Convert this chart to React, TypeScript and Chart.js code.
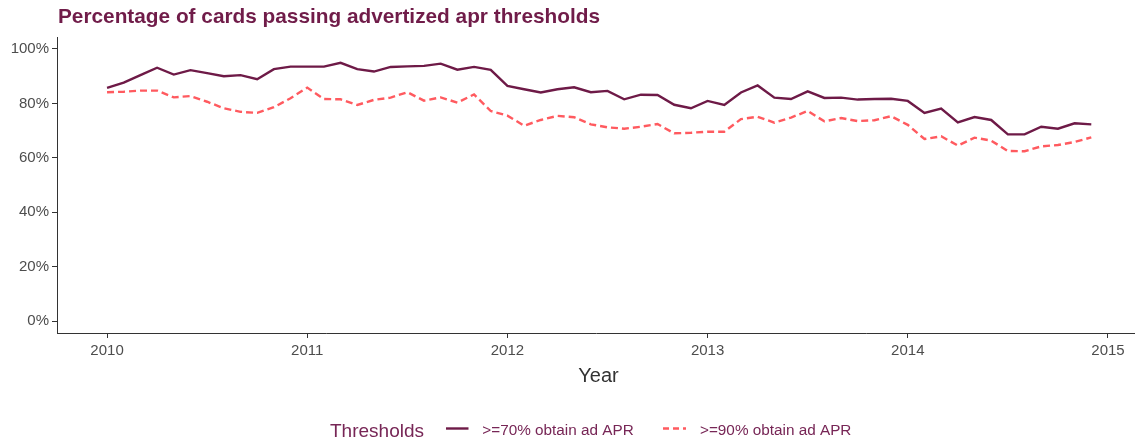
import React, { useEffect, useRef } from "react";
import { Chart, registerables } from "chart.js";

Chart.register(...registerables);

const years = [2010, 2011, 2012, 2013, 2014];
const monthsPerYear = 12;

const series70 = [
  85.7, 87.6, 90.4, 93.1, 90.6, 92.2, 91.1, 90.0, 90.4, 88.9, 92.6, 93.5,
  93.5, 93.5, 94.9, 92.6, 91.7, 93.4, 93.6, 93.8, 94.6, 92.4, 93.4, 92.3,
  86.4, 85.2, 84.0, 85.2, 85.9, 84.1, 84.6, 81.5, 83.2, 83.1, 79.5, 78.2,
  80.9, 79.4, 84.0, 86.6, 82.1, 81.6, 84.4, 82.0, 82.1, 81.4, 81.6, 81.7,
  80.9, 76.5, 78.1, 73.0, 75.0, 73.9, 68.6, 68.6, 71.4, 70.7, 72.7, 72.3,
];

const series90 = [
  84.1, 84.3, 84.7, 84.7, 82.2, 82.7, 80.6, 78.2, 76.9, 76.5, 78.6, 81.9,
  85.8, 81.6, 81.5, 79.4, 81.3, 82.1, 84.1, 81.0, 82.2, 80.3, 83.3, 77.2,
  75.5, 71.8, 73.9, 75.4, 74.9, 72.3, 71.2, 70.7, 71.4, 72.4, 69.0, 69.2,
  69.6, 69.6, 74.2, 75.1, 72.9, 74.8, 77.2, 73.4, 74.6, 73.5, 73.8, 75.3,
  72.1, 66.9, 67.9, 64.5, 67.4, 66.3, 62.5, 62.4, 64.2, 64.7, 65.8, 67.5,
];

const xTicks = [2010, 2011, 2012, 2013, 2014, 2015];
const yTicks = [0, 20, 40, 60, 80, 100];

const titleText = "Percentage of cards passing advertized apr thresholds";
const xTitle = "Year";
const legendTitle = "Thresholds";
const seriesNames = [">=70% obtain ad APR", ">=90% obtain ad APR"];

const COLOR70 = "#6e1a47";
const COLOR90 = "#ff5a5f";
const TEXT_MAROON = "#772656";
const FONT = '"Liberation Sans", Arial, sans-serif';

const xValues: number[] = [];
years.forEach((y) => {
  for (let m = 0; m < monthsPerYear; m++) xValues.push(y + m / monthsPerYear);
});

const overlayPlugin = {
  id: "overlayText",
  afterDraw(chart: any) {
    const ctx = chart.ctx;
    ctx.save();
    // title
    ctx.fillStyle = "#701c49";
    ctx.font = `bold 20.8px ${FONT}`;
    ctx.textAlign = "left";
    ctx.textBaseline = "alphabetic";
    ctx.fillText(titleText, 58, 22.7);
    // x title
    ctx.fillStyle = "#333333";
    ctx.font = `20px ${FONT}`;
    ctx.textAlign = "center";
    ctx.fillText(xTitle, 598.5, 382.3);
    // legend
    ctx.textAlign = "left";
    ctx.fillStyle = TEXT_MAROON;
    ctx.font = `19px ${FONT}`;
    ctx.fillText(legendTitle, 330, 437);
    const keys = [
      { x0: 446, x1: 468.5, tx: 482.3, color: COLOR70, dash: [] as number[] },
      { x0: 663, x1: 686, tx: 700, color: COLOR90, dash: [6, 4] },
    ];
    keys.forEach((k, i) => {
      ctx.beginPath();
      ctx.setLineDash(k.dash);
      ctx.strokeStyle = k.color;
      ctx.lineWidth = 2.4;
      ctx.moveTo(k.x0, 428.5);
      ctx.lineTo(k.x1, 428.5);
      ctx.stroke();
      ctx.setLineDash([]);
      ctx.fillStyle = TEXT_MAROON;
      ctx.font = `15.3px ${FONT}`;
      ctx.fillText(seriesNames[i], k.tx, 435);
    });
    ctx.restore();
  },
};

export default function App() {
  const ref = useRef<HTMLCanvasElement | null>(null);
  useEffect(() => {
    if (!ref.current) return;
    const chart = new Chart(ref.current, {
      type: "line",
      data: {
        datasets: [
          {
            label: seriesNames[0],
            data: series70.map((v, i) => ({ x: xValues[i], y: v })),
            borderColor: COLOR70,
            borderWidth: 2.4,
            pointRadius: 0,
            tension: 0,
            fill: false,
          },
          {
            label: seriesNames[1],
            data: series90.map((v, i) => ({ x: xValues[i], y: v })),
            borderColor: COLOR90,
            borderWidth: 2.4,
            borderDash: [7, 4],
            pointRadius: 0,
            tension: 0,
            fill: false,
          },
        ],
      },
      options: {
        animation: false,
        responsive: false,
        devicePixelRatio: 1,
        layout: { padding: { top: 37, left: 0, right: 0, bottom: 0 } },
        plugins: {
          legend: { display: false },
          title: { display: false },
          tooltip: { enabled: false },
        },
        scales: {
          x: {
            type: "linear",
            min: 2009.75,
            max: 2015.135,
            afterBuildTicks: (s: any) => {
              s.ticks = xTicks.map((v) => ({ value: v }));
            },
            afterFit: (s: any) => {
              s.height = 111;
            },
            ticks: {
              callback: (v: any) => String(v),
              color: "#4d4d4d",
              font: { family: FONT, size: 15 },
              padding: 4,
              maxRotation: 0,
              autoSkip: false,
            },
            grid: {
              drawOnChartArea: false,
              tickLength: 5,
              color: "#333333",
              lineWidth: 1,
            },
            border: { color: "#333333", width: 1 },
          },
          y: {
            type: "linear",
            min: -4.4,
            max: 104.4,
            afterBuildTicks: (s: any) => {
              s.ticks = yTicks.map((v) => ({ value: v }));
            },
            afterFit: (s: any) => {
              s.width = 57;
            },
            ticks: {
              callback: (v: any) => `${v}%`,
              color: "#4d4d4d",
              font: { family: FONT, size: 15 },
              padding: 3,
              autoSkip: false,
            },
            grid: {
              drawOnChartArea: false,
              tickLength: 5,
              color: "#333333",
              lineWidth: 1,
            },
            border: { color: "#333333", width: 1 },
          },
        },
      },
      plugins: [overlayPlugin],
    } as any);
    return () => chart.destroy();
  }, []);
  return (
    <div style={{ position: "fixed", left: 0, top: 0, width: 1135, height: 444, background: "#fff" }}>
      <canvas ref={ref} width={1135} height={444} style={{ display: "block" }} />
    </div>
  );
}
